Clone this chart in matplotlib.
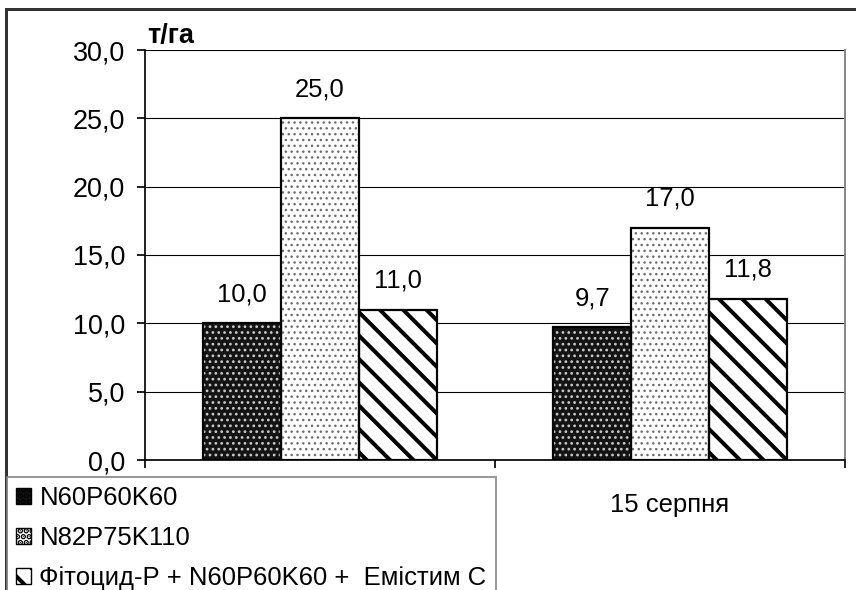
import matplotlib
matplotlib.use("Agg")
import matplotlib.pyplot as plt
from matplotlib.patches import Patch, Rectangle
import numpy as np

categories = ["", "15 серпня"]
series_names = ["N60P60K60", "N82P75K110", "Фітоцид-Р + N60P60K60 +  Емістим С"]
values = [
    [10.0, 9.7],
    [25.0, 17.0],
    [11.0, 11.8],
]
yticks = [0, 5, 10, 15, 20, 25, 30]
unit_label = "т/га"

plt.rcParams['font.family'] = ['Liberation Sans', 'DejaVu Sans']

W, H = 857, 590
DPI = 140
PX = 72.0 / DPI  # points per pixel


def px(v):
    return v * PX


FS_TICK = px(27)
FS = px(25.7)
FS_UNIT = px(27)

fig = plt.figure(figsize=(W / DPI, H / DPI), dpi=DPI)
ax = fig.add_axes([145 / W, 1 - 460 / H, (845 - 145) / W, (460 - 50) / H])

styles = [
    dict(facecolor="#141414", hatch="....", hcolor="#c8c8c8", hlw=px(1.6)),
    dict(facecolor="white", hatch="....", hcolor="#6a6a6a", hlw=px(1.3)),
    dict(facecolor="white", hatch="\\\\", hcolor="black", hlw=px(4.0)),
]

n = len(series_names)
gap = 1.5
bw = 1.0 / (n + gap)
x = np.arange(len(categories))

for i, (name, vals) in enumerate(zip(series_names, values)):
    st = styles[i]
    pos = x - (n * bw) / 2 + bw * (i + 0.5)
    plt.rcParams['hatch.linewidth'] = st["hlw"]
    bars = ax.bar(pos, vals, width=bw, facecolor=st["facecolor"],
                  edgecolor=st["hcolor"], hatch=st["hatch"], linewidth=0, zorder=2)
    for b in bars:
        if hasattr(b, "set_hatch_linewidth"):
            b.set_hatch_linewidth(st["hlw"])
    ax.bar(pos, vals, width=bw, facecolor="none", edgecolor="black",
           linewidth=px(2.2), zorder=3)
    for p, v in zip(pos, vals):
        ax.annotate(f"{v:.1f}".replace(".", ","), (p, v), xytext=(0, px(17)),
                    textcoords="offset points", ha="center", va="bottom",
                    fontsize=FS, zorder=4)

ax.set_xlim(-0.5, len(categories) - 0.5)
ax.set_ylim(0, 30)
ax.set_yticks(yticks)
ax.set_yticklabels([f"{t:.1f}".replace(".", ",") for t in yticks], fontsize=FS_TICK)
ax.yaxis.grid(True, color="black", linewidth=px(1.1), zorder=0)
ax.set_axisbelow(True)

ax.set_xticks(x)
ax.set_xticklabels(categories, fontsize=FS)
ax.tick_params(axis="x", which="major", length=0, pad=px(33))
ax.set_xticks(np.arange(len(categories) + 1) - 0.5, minor=True)
ax.tick_params(axis="x", which="minor", length=px(8), width=px(1.7), direction="out")
ax.tick_params(axis="y", length=px(8), width=px(1.7), direction="out", pad=px(12))

for s in ["left", "bottom"]:
    ax.spines[s].set_linewidth(px(1.7))
    ax.spines[s].set_color("black")
ax.spines["top"].set_visible(False)
ax.spines["right"].set_color("#888888")
ax.spines["right"].set_linewidth(px(2))

fig.text(147 / W, 1 - 36 / H, unit_label, fontsize=FS_UNIT, fontweight="bold",
         ha="left", va="center")

# figure border (top and left visible)
fig.patches.append(Rectangle((6.5 / W, -0.1), 1.2, 1.1 - 9 / H, transform=fig.transFigure,
                             fill=False, edgecolor="#333333", linewidth=px(3), zorder=10))

handles = []
for st in styles:
    handles.append(Patch(facecolor=st["facecolor"], edgecolor="black",
                         hatch=st["hatch"], linewidth=px(1.4)))
leg = fig.legend(handles, series_names, loc="upper left",
                 bbox_to_anchor=(7 / W, 1 - 477 / H), bbox_transform=fig.transFigure,
                 fontsize=FS, frameon=True, fancybox=False, borderaxespad=0,
                 handlelength=0.58, handleheight=0.58, handletextpad=0.32,
                 labelspacing=0.62, borderpad=0.36)
leg.get_frame().set_edgecolor("#808080")
leg.get_frame().set_linewidth(px(2))
leg.get_frame().set_facecolor("white")
leg.set_zorder(11)

fig.savefig("out.png", dpi=DPI)
